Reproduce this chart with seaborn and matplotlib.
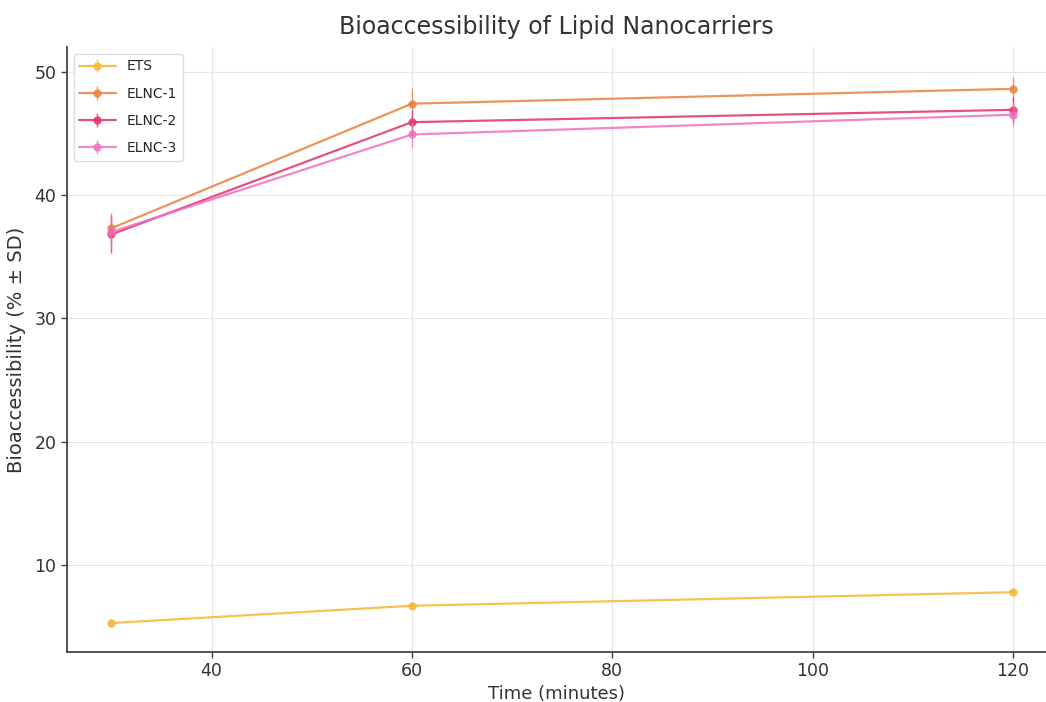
import numpy as np
import pandas as pd
import seaborn as sns
import matplotlib
matplotlib.use("Agg")
import matplotlib.pyplot as plt

time_points = [30, 60, 120]
series_names = ["ETS", "ELNC-1", "ELNC-2", "ELNC-3"]
ets_mean = [5.3, 6.7, 7.8]
elnc1_mean = [37.3, 47.4, 48.6]
elnc2_mean = [36.8, 45.9, 46.9]
elnc3_mean = [37.0, 44.9, 46.5]
ets_sd = [0.3, 0.3, 0.3]
elnc1_sd = [1.2, 1.3, 1.0]
elnc2_sd = [1.5, 1.0, 1.0]
elnc3_sd = [1.2, 1.0, 0.9]
colors = ["#F5B731", "#E8823F", "#E0336B", "#EE70C6"]

means = [ets_mean, elnc1_mean, elnc2_mean, elnc3_mean]
sds = [ets_sd, elnc1_sd, elnc2_sd, elnc3_sd]

df = pd.DataFrame({
    "Time": time_points * len(series_names),
    "Value": sum(means, []),
    "SD": sum(sds, []),
    "Series": [s for s in series_names for _ in time_points],
})

sns.set_theme(style="whitegrid")
plt.rcParams["font.family"] = ["DejaVu Sans"]
fig = plt.figure(figsize=(10.46, 7.02), dpi=100)
ax = fig.add_axes([0.064, 0.0712, 0.936, 0.862])

sns.lineplot(data=df, x="Time", y="Value", hue="Series", hue_order=series_names,
             palette=colors, marker="o", markersize=6, markeredgewidth=0,
             linewidth=1.6, alpha=0.85, legend=False, ax=ax)

handles = []
for name, c in zip(series_names, colors):
    sub = df[df["Series"] == name]
    cont = ax.errorbar(sub["Time"], sub["Value"], yerr=sub["SD"], fmt="none",
                       ecolor=c, elinewidth=1.0, alpha=0.8)
    ln = plt.Line2D([], [], color=c, marker="o", markersize=6, markeredgewidth=0,
                    linewidth=1.6, alpha=0.85)
    handles.append((ln, cont))

ax.legend(handles, series_names, loc="upper left", fontsize=10, frameon=True,
          edgecolor="#dddddd", framealpha=1, labelspacing=0.95, handlelength=2.6)

ax.set_xlim(25.56, 123.3)
ax.set_ylim(2.95, 52.0)
ax.set_xticks([40, 60, 80, 100, 120])
ax.set_yticks([10, 20, 30, 40, 50])
ax.grid(True, color="#e6e6e6", linewidth=0.8)
for s in ["top", "right"]:
    ax.spines[s].set_visible(False)
for s in ["left", "bottom"]:
    ax.spines[s].set_visible(True)
    ax.spines[s].set_color("#444444")
    ax.spines[s].set_linewidth(1.3)
ax.tick_params(axis="both", which="both", length=4, width=1, color="#444444",
               labelsize=12.5, labelcolor="#333333", bottom=True, left=True)
ax.set_title("Bioaccessibility of Lipid Nanocarriers", fontsize=17, color="#333333", pad=9)
ax.set_xlabel("Time (minutes)", fontsize=13, color="#333333", labelpad=3)
ax.set_ylabel("Bioaccessibility (% ± SD)", fontsize=14, color="#333333", labelpad=6)

fig.savefig("out.png", dpi=100)
